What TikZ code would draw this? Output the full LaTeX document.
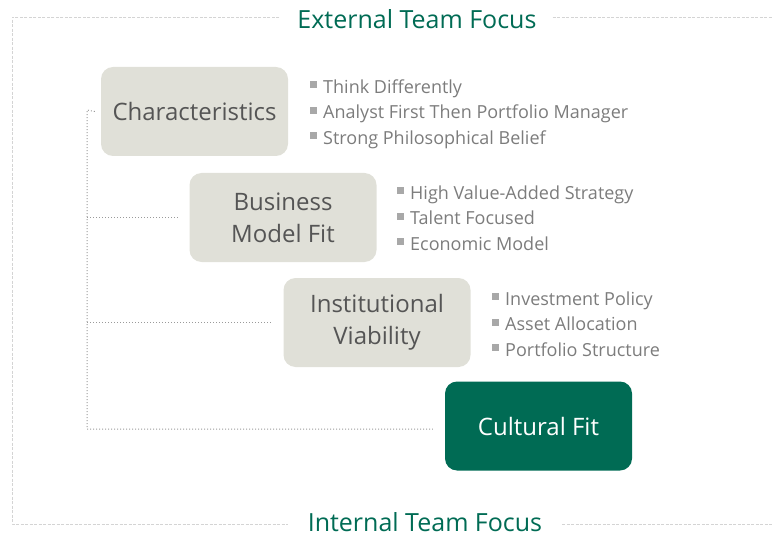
\documentclass[tikz,border=0pt]{standalone}
\usepackage{fontspec}
\setmainfont{Open Sans}
\definecolor{boxgray}{HTML}{E0E0D8}
\definecolor{boxtext}{HTML}{555555}
\definecolor{teamgreen}{HTML}{006B54}
\definecolor{listgray}{HTML}{7C7C7C}
\definecolor{bulletgray}{HTML}{A8A8A8}
\definecolor{framegray}{HTML}{D4D4D4}
\definecolor{linkgray}{HTML}{9A9A9A}
\newcommand{\itm}{\textcolor{bulletgray}{\rule[5pt]{7pt}{7pt}}\hspace{6pt}}
\begin{document}
\begin{tikzpicture}[x=1pt,y=-1pt,
	stage/.style={rounded corners=12pt, fill=boxgray, text=boxtext, minimum width=187pt, minimum height=89pt, inner sep=0pt, align=center, font=\fontsize{24}{32}\selectfont},
	focus/.style={text=teamgreen, font=\fontsize{25}{30}\selectfont, inner sep=0pt},
	points/.style={anchor=west, text=listgray, align=left, inner sep=0pt, font=\fontsize{18}{25.5}\selectfont},
	frame/.style={draw=framegray, dashed, dash pattern=on 3pt off 1.5pt, line width=0.8pt},
	link/.style={draw=linkgray, dotted, line width=1pt}]
	\useasboundingbox (0,0) rectangle (773,537);
	% stages
	\node	(char) at (194.5,111.5) [stage] {Characteristics};
	\node	(biz) at (283,217.5) [stage] {Business\\Model Fit};
	\node	(inst) at (377,322.5) [stage] {Institutional\\Viability};
	\node	(cult) at (538.5,426) [stage, fill=teamgreen, text=white] {Cultural Fit};
	% bullet points
	\node	(charlist) at (310,114) [points] {\itm Think Differently\\\itm Analyst First Then Portfolio Manager\\\itm Strong Philosophical Belief};
	\node	(bizlist) at (397,218) [points] {\itm High Value-Added Strategy\\\itm Talent Focused\\\itm Economic Model};
	\node	(instlist) at (492,324) [points] {\itm Investment Policy\\\itm Asset Allocation\\\itm Portfolio Structure};
	% frame
	\node	(ext) at (417,19) [focus] {External Team Focus};
	\node	(int) at (425,522) [focus] {Internal Team Focus};
	\coordinate	(tl) at (12,17);
	\coordinate	(bl) at (12,524);
	\coordinate	(tr) at (773,17);
	\coordinate	(br) at (773,524);
	\draw[frame] ([xshift=-18pt]ext.west |- tl) -- (tl) -- (bl) -- ([xshift=-20pt]int.west |- bl);
	\draw[frame] ([xshift=16pt]ext.east |- tr) -- (tr);
	\draw[frame] ([xshift=20pt]int.east |- br) -- (br);
	% spine
	\coordinate	(top) at (87,110);
	\coordinate	(bot) at (87,429);
	\draw[link] (char.west) ++(-6,0) -- (top) -- (bot) -- ([xshift=-12pt]cult.west |- bot);
	\draw[link] (top |- biz.west) -- ([xshift=-12pt]biz.west);
	\draw[link] (top |- inst.west) -- ([xshift=-12pt]inst.west);
\end{tikzpicture}
\end{document}
